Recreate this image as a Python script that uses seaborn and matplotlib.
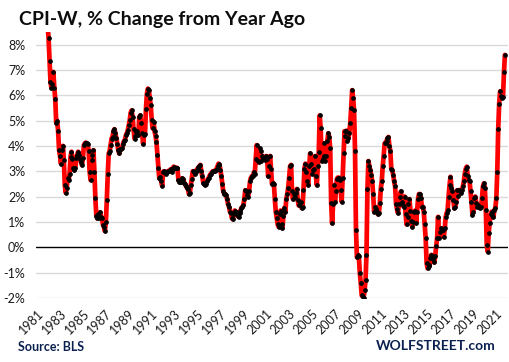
import matplotlib
matplotlib.use("Agg")
import matplotlib.pyplot as plt
import seaborn as sns
import numpy as np

# CPI-W, % change from year ago, monthly, Jan 1981 - Nov 2021
cpi_w = {
    1981: [11.6, 11.1, 10.3, 9.8, 9.6, 9.5, 10.6, 10.6, 10.8, 9.9, 9.3, 8.8],
    1982: [8.25, 7.35, 6.52, 6.29, 6.46, 6.92, 6.3, 5.84, 4.91, 4.99, 4.58, 3.83],
    1983: [3.61, 3.29, 3.83, 4.0, 3.44, 2.45, 2.15, 2.35, 2.72, 2.65, 2.91, 3.57],
    1984: [3.77, 3.5, 3.14, 3.04, 3.14, 3.53, 3.65, 3.77, 3.64, 3.5, 3.35, 3.24],
    1985: [3.53, 4.03, 4.1, 4.13, 4.1, 4.06, 3.79, 2.98, 2.65, 3.44, 3.64, 3.83],
    1986: [2.98, 1.93, 1.25, 1.14, 1.3, 1.17, 1.38, 1.2, 1.14, 0.88, 0.8, 0.64],
    1987: [1.0, 1.86, 2.89, 3.7, 3.8, 4.05, 4.29, 4.36, 4.58, 4.66, 4.49, 4.3],
    1988: [4.09, 3.83, 3.7, 3.87, 3.88, 3.9, 4.09, 4.19, 4.23, 4.42, 4.5, 4.62],
    1989: [4.82, 5.01, 5.31, 5.4, 5.14, 4.66, 4.29, 4.4, 4.53, 4.58, 4.42, 5.14],
    1990: [5.2, 4.9, 4.49, 4.09, 4.42, 4.45, 5.46, 6.06, 6.26, 6.19, 5.9, 5.6],
    1991: [5.04, 4.69, 4.95, 4.58, 4.4, 4.16, 3.64, 3.14, 2.72, 2.78, 2.6, 2.43],
    1992: [2.98, 3.0, 2.95, 2.91, 2.98, 3.0, 3.02, 3.04, 3.08, 2.98, 3.1, 3.18],
    1993: [3.14, 3.14, 3.14, 3.11, 2.65, 2.59, 2.59, 2.59, 2.72, 2.69, 2.55, 2.5],
    1994: [2.4, 2.35, 2.3, 2.1, 2.15, 2.45, 2.7, 3.0, 2.95, 2.9, 2.95, 3.05],
    1995: [3.1, 3.15, 3.2, 3.25, 3.0, 2.8, 2.55, 2.5, 2.45, 2.5, 2.6, 2.7],
    1996: [2.75, 2.85, 2.9, 2.95, 3.0, 3.0, 3.0, 3.05, 3.1, 3.2, 3.3, 3.25],
    1997: [3.05, 2.8, 2.5, 2.2, 2.1, 2.1, 2.05, 1.9, 1.7, 1.6, 1.4, 1.35],
    1998: [1.15, 1.1, 1.3, 1.45, 1.4, 1.3, 1.25, 1.2, 1.35, 1.45, 1.55, 1.6],
    1999: [1.65, 1.9, 2.25, 2.2, 2.05, 2.0, 2.2, 2.6, 2.75, 2.8, 2.8, 2.95],
    2000: [2.9, 3.5, 4.03, 3.4, 3.35, 3.9, 3.8, 3.4, 3.6, 3.5, 3.5, 3.45],
    2001: [3.6, 3.5, 2.8, 3.2, 3.6, 3.1, 2.5, 2.55, 2.5, 1.9, 1.4, 1.15],
    2002: [0.9, 0.8, 1.3, 1.45, 0.9, 0.75, 1.25, 1.55, 1.4, 1.9, 2.1, 2.35],
    2003: [2.75, 3.2, 3.25, 2.2, 1.9, 2.1, 2.0, 2.15, 2.3, 1.85, 1.65, 1.75],
    2004: [1.8, 1.55, 1.6, 2.25, 3.1, 3.3, 2.95, 2.6, 2.45, 3.2, 3.7, 3.3],
    2005: [2.9, 3.05, 3.1, 3.6, 2.8, 2.45, 3.2, 3.75, 5.2, 4.7, 3.4, 3.5],
    2006: [4.1, 3.6, 3.4, 3.6, 4.2, 4.5, 4.35, 3.9, 1.75, 0.95, 1.7, 2.45],
    2007: [1.8, 2.2, 2.7, 2.75, 2.75, 2.65, 2.25, 1.8, 2.75, 3.7, 4.58, 4.4],
    2008: [4.6, 4.2, 4.3, 4.5, 4.9, 5.5, 6.2, 5.9, 5.4, 3.8, 0.7, -0.4],
    2009: [-0.3, -0.35, -1.0, -1.4, -1.9, -1.95, -1.99, -1.7, -1.3, -0.3, 2.3, 3.4],
    2010: [3.2, 3.05, 2.85, 2.6, 2.1, 1.4, 1.6, 1.5, 1.4, 1.3, 1.35, 1.75],
    2011: [2.3, 2.6, 3.2, 3.6, 4.1, 4.1, 4.2, 4.3, 4.35, 4.0, 3.8, 3.1],
    2012: [3.05, 2.85, 2.6, 2.4, 1.7, 1.5, 1.35, 1.7, 2.0, 2.2, 1.8, 1.65],
    2013: [1.6, 2.0, 1.3, 0.9, 1.2, 1.7, 1.9, 1.45, 1.05, 0.8, 1.0, 1.4],
    2014: [1.45, 0.95, 1.4, 1.9, 2.1, 2.1, 1.95, 1.6, 1.6, 1.4, 0.9, 0.35],
    2015: [-0.63, -0.83, -0.7, -0.75, -0.43, -0.3, -0.35, -0.45, -0.6, -0.35, 0.03, 0.35],
    2016: [1.2, 0.35, 0.6, 0.75, 0.7, 0.68, 0.42, 0.75, 1.2, 1.35, 1.47, 2.0],
    2017: [2.45, 2.78, 2.35, 2.2, 1.86, 1.54, 1.6, 1.8, 2.25, 2.03, 2.26, 2.2],
    2018: [2.15, 2.26, 2.4, 2.6, 2.9, 3.1, 3.18, 2.8, 2.65, 2.6, 2.2, 1.8],
    2019: [1.28, 1.4, 1.93, 2.0, 1.75, 1.6, 1.67, 1.6, 1.54, 1.6, 1.93, 2.4],
    2020: [2.52, 2.33, 1.47, 0.09, -0.17, 0.55, 0.95, 1.3, 1.4, 1.28, 1.2, 1.47],
    2021: [1.55, 1.93, 2.96, 4.68, 5.67, 6.15, 5.98, 5.9, 5.92, 6.9, 7.59],
}

years = []
values = []
for yr, vals in cpi_w.items():
    for i, v in enumerate(vals):
        years.append(yr + i / 12)
        values.append(v)
years = np.array(years)
values = np.array(values)

tick_years = list(range(1981, 2022, 2))
y_ticks = list(range(-2, 9))

sns.set_style("white")
plt.rcParams['font.family'] = ['Lato', 'DejaVu Sans']

fig = plt.figure(figsize=(5.1, 3.62), dpi=100)
ax = fig.add_axes([0.071, 0.177, 0.925, 0.735])

for t in y_ticks:
    if t != 0:
        ax.axhline(t, color='#d9d9d9', linewidth=1.0, zorder=0)
ax.axhline(0, color='black', linewidth=1.0, zorder=1)

sns.lineplot(x=years, y=values, ax=ax, color='#ff0000', linewidth=3.4,
             marker='o', markersize=2.6, markerfacecolor='black',
             markeredgecolor='black', zorder=3)

ax.set_xlim(1980.92, 2022.1)
ax.set_ylim(-2, 8.5)
ax.set_xticks(tick_years)
ax.set_xticklabels([str(y) for y in tick_years], rotation=45, ha='right',
                   rotation_mode='anchor', fontsize=9, color='#1a1a1a')
ax.set_yticks(y_ticks)
ax.set_yticklabels([f"{t}%" for t in y_ticks], fontsize=9, color='#1a1a1a')
ax.tick_params(axis='both', length=0)
ax.tick_params(axis='x', pad=7)
ax.tick_params(axis='y', pad=8)
for s in ax.spines.values():
    s.set_visible(False)
ax.set_xlabel('')
ax.set_ylabel('')

fig.text(0.037, 0.945, 'CPI-W, % Change from Year Ago', fontsize=14,
         fontweight='bold', color='#0d0d0d', va='center', ha='left')
fig.text(0.035, 0.042, 'Source: BLS', fontsize=9, fontweight='bold',
         color='#0b2150', va='center', ha='left')
fig.text(0.972, 0.045, 'WOLFSTREET.com', fontsize=10, fontweight='bold',
         color='#0b2150', va='center', ha='right')

fig.savefig('out.png', dpi=100)
